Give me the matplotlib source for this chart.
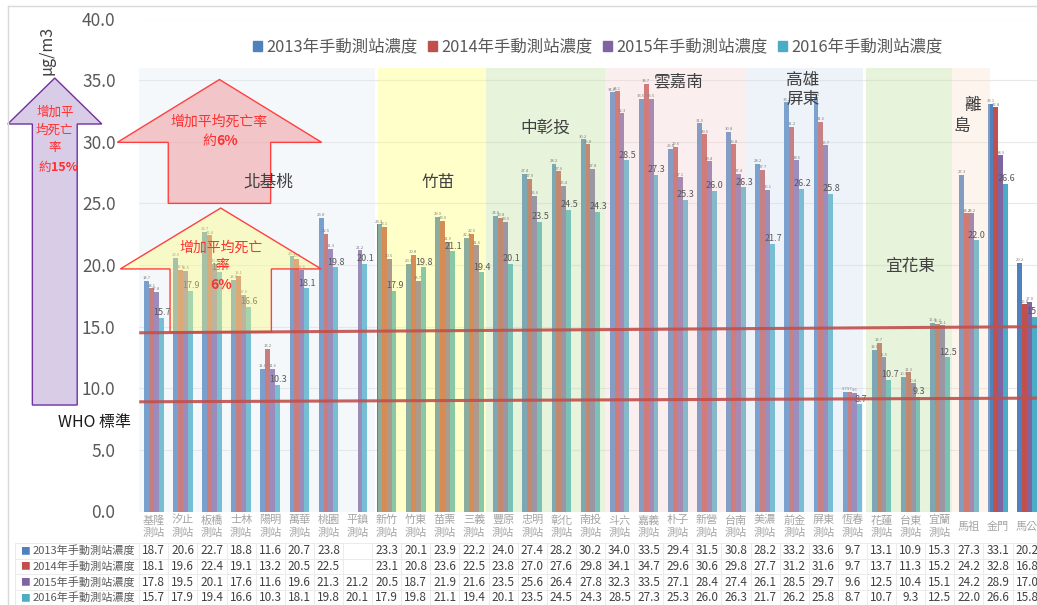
import matplotlib
matplotlib.use('Agg')
import matplotlib.pyplot as plt
import numpy as np
from matplotlib.patches import Polygon, Patch
from matplotlib.lines import Line2D
from matplotlib.colors import to_rgba

plt.rcParams['font.family'] = ['Noto Sans CJK TC', 'DejaVu Sans']

# ---- data ----
stations = ['基隆\n測站', '汐止\n測站', '板橋\n測站', '士林\n測站', '陽明\n測站', '萬華\n測站', '桃園\n測站', '平鎮\n測站',
            '新竹\n測站', '竹東\n測站', '苗栗\n測站', '三義\n測站', '豐原\n測站', '忠明\n測站', '彰化\n測站', '南投\n測站',
            '斗六\n測站', '嘉義\n測站', '朴子\n測站', '新營\n測站', '台南\n測站', '美濃\n測站', '前金\n測站', '屏東\n測站',
            '恆春\n測站', '花蓮\n測站', '台東\n測站', '宜蘭\n測站', '馬祖', '金門', '馬公']
years = ['2013年手動測站濃度', '2014年手動測站濃度', '2015年手動測站濃度', '2016年手動測站濃度']
v2013 = [18.7, 20.6, 22.7, 18.8, 11.6, 20.7, 23.8, np.nan, 23.3, 20.1, 23.9, 22.2, 24.0, 27.4, 28.2, 30.2,
         34.0, 33.5, 29.4, 31.5, 30.8, 28.2, 33.2, 33.6, 9.7, 13.1, 10.9, 15.3, 27.3, 33.1, 20.2]
v2014 = [18.1, 19.6, 22.4, 19.1, 13.2, 20.5, 22.5, np.nan, 23.1, 20.8, 23.6, 22.5, 23.8, 27.0, 27.6, 29.8,
         34.1, 34.7, 29.6, 30.6, 29.8, 27.7, 31.2, 31.6, 9.7, 13.7, 11.3, 15.2, 24.2, 32.8, 16.8]
v2015 = [17.8, 19.5, 20.1, 17.6, 11.6, 19.6, 21.3, 21.2, 20.5, 18.7, 21.9, 21.6, 23.5, 25.6, 26.4, 27.8,
         32.3, 33.5, 27.1, 28.4, 27.4, 26.1, 28.5, 29.7, 9.6, 12.5, 10.4, 15.1, 24.2, 28.9, 17.0]
v2016 = [15.7, 17.9, 19.4, 16.6, 10.3, 18.1, 19.8, 20.1, 17.9, 19.8, 21.1, 19.4, 20.1, 23.5, 24.5, 24.3,
         28.5, 27.3, 25.3, 26.0, 26.3, 21.7, 26.2, 25.8, 8.7, 10.7, 9.3, 12.5, 22.0, 26.6, 15.8]
series = [v2013, v2014, v2015, v2016]
colors = ['#4F81BD', '#C0504D', '#8064A2', '#4BACC6']

# regional shaded boxes (category spans)
region_spans = [(-0.5, 7.6), (7.7, 11.4), (11.4, 15.5), (15.5, 20.3), (20.3, 24.35), (24.45, 27.42), (27.42, 28.73)]
region_colors = ['#DCE9F5', '#FFFF66', '#C3E3A5', '#F2D0D0', '#D0DEF2', '#C3E3A5', '#F9DCC8']
region_alpha = [0.3, 0.35, 0.4, 0.35, 0.35, 0.4, 0.3]
region_top = 36.0

# standard lines (hand drawn, slightly tilted)
line_hi = (14.5, 15.0)
line_lo = (8.9, 9.2)

fig = plt.figure(figsize=(10.37, 6.05), dpi=100)
ax = fig.add_axes([139.2 / 1037, (605 - 511.5) / 605, 902.5 / 1037, 493 / 605])
ax.set_xlim(-0.5, 30.5)
ax.set_ylim(0, 40)

x = np.arange(len(stations))
bw = 0.168
offs = [-1.5 * bw, -0.5 * bw, 0.5 * bw, 1.5 * bw]
for k in range(4):
    vals = np.array(series[k], dtype=float)
    ax.bar(x + offs[k], vals, width=bw, color=colors[k], zorder=2, linewidth=0)
    for xi, v in zip(x, vals):
        if np.isnan(v):
            continue
        if k == 3:
            ax.annotate(f'{v:.1f}', (xi + offs[k], v), xytext=(0.5, 0.5), textcoords='offset points',
                        ha='center', va='bottom', fontsize=6.5, color='#595959', zorder=6)
        else:
            ax.annotate(f'{v:.1f}', (xi + offs[k], v), xytext=(0, 0.5), textcoords='offset points',
                        ha='center', va='bottom', fontsize=3, color='#7F7F7F', zorder=6)

# shaded region boxes over bars
for (x0, x1), c, a in zip(region_spans, region_colors, region_alpha):
    ax.axvspan(x0, x1, ymin=0, ymax=region_top / 40, color=c, alpha=a, lw=0, zorder=3)

rl = dict(fontsize=12, color='#404040', ha='center', va='center', zorder=7)
ax.text(3.92, 26.7, '北基桃', **rl)
ax.text(9.76, 26.7, '竹苗', **rl)
ax.text(13.44, 31.1, '中彰投', **rl)
ax.text(18.01, 34.85, '雲嘉南', **rl)
ax.text(22.3, 34.2, '高雄\n屏東', linespacing=1.15, **rl)
ax.text(25.98, 19.9, '宜花東', **rl)
ax.text(28.11, 32.98, '離', **rl)
ax.text(27.76, 31.2, '島', **rl)


def up_arrow(xc, body_hw, head_hw, y0, yneck, ytip, fc, a, ec):
    pts = [(xc - body_hw, y0), (xc + body_hw, y0), (xc + body_hw, yneck), (xc + head_hw, yneck),
           (xc, ytip), (xc - head_hw, yneck), (xc - body_hw, yneck)]
    ax.add_patch(Polygon(pts, closed=True, facecolor=to_rgba(fc, a), edgecolor=ec, lw=1.0,
                         zorder=6, clip_on=False))


up_arrow(-3.40, 0.77, 1.615, 8.64, 31.44, 35.17, '#D9CCE6', 1.0, '#7030A0')
up_arrow(2.257, 1.759, 3.51, 25.0, 29.95, 35.05, '#F29C9F', 0.55, '#FF4040')
up_arrow(2.30, 1.74, 3.45, 14.56, 19.68, 24.62, '#FFFF66', 0.35, '#FF4040')

red = '#FF3030'
tx = dict(color=red, ha='center', va='center', zorder=8, clip_on=False)
# purple arrow text
ax.text(-3.40, 32.4, '增加平', fontsize=9, **tx)
ax.text(-3.40, 30.95, '均死亡', fontsize=9, **tx)
ax.text(-3.40, 29.5, '率', fontsize=9, **tx)
ax.annotate('約', (-3.40, 27.95), xytext=(-3, 0), textcoords='offset points', fontsize=9,
            color=red, ha='right', va='center', zorder=8, annotation_clip=False)
ax.annotate('15%', (-3.40, 27.95), xytext=(-3, 0), textcoords='offset points', fontsize=9,
            fontweight='bold', color=red, ha='left', va='center', zorder=8, annotation_clip=False)
# pink arrow text
ax.text(2.257, 31.6, '增加平均死亡率', fontsize=10, **tx)
ax.annotate('約', (2.257, 30.1), xytext=(-2, 0), textcoords='offset points', fontsize=10,
            color=red, ha='right', va='center', zorder=8)
ax.annotate('6%', (2.257, 30.1), xytext=(-2, 0), textcoords='offset points', fontsize=10,
            fontweight='bold', color=red, ha='left', va='center', zorder=8)
# yellow arrow text
ax.text(2.30, 21.4, '增加平均死亡', fontsize=10, **tx)
ax.text(2.35, 20.0, '率', fontsize=10, **tx)
ax.text(2.30, 18.4, '6%', fontsize=10, fontweight='bold', **tx)

# standard lines
ax.plot([-0.5, 30.5], line_hi, color='#C0504D', lw=2.2, alpha=0.9, zorder=9, solid_capstyle='butt')
ax.plot([-0.5, 30.5], line_lo, color='#C0504D', lw=2.2, alpha=0.9, zorder=9, solid_capstyle='butt')
ax.text(-2.02, 7.26, 'WHO 標準', fontsize=11.5, color='#1A1A1A', ha='center', va='center', clip_on=False)
ax.text(-3.67, 37.4, 'μg/m3', fontsize=11.5, color='#404040', rotation=90, ha='center', va='center',
        clip_on=False)

# axes styling
ax.set_yticks(np.arange(0, 41, 5))
ax.set_yticklabels([f'{v:.1f}' for v in np.arange(0, 41, 5)])
ax.tick_params(axis='y', length=0, pad=17, labelsize=12.5, labelcolor='#595959')
ax.set_xticks([])
ax.yaxis.grid(True, color='#E8E8E8', lw=0.8)
ax.set_axisbelow(True)
for s in ax.spines.values():
    s.set_visible(False)

ax.legend(handles=[Patch(color=c) for c in colors], labels=years, loc='center',
          bbox_to_anchor=(0.508, 0.942), ncol=4, frameon=False, fontsize=11.8, handlelength=0.55,
          handleheight=0.55, handletextpad=0.3, columnspacing=0.6, labelcolor='#595959')

# data table under the chart
head_y = -1.22
row_y = [-3.2 - 1.27 * k for k in range(4)]
for xi, name in zip(x, stations):
    ax.text(xi, head_y, name, fontsize=8, color='#A5A5A5', ha='center', va='center',
            linespacing=1.3, clip_on=False)
for k in range(4):
    ax.text(-4.42, row_y[k], '■', fontsize=7, color=colors[k], ha='center', va='center', clip_on=False)
    ax.text(-4.18, row_y[k], years[k], fontsize=8, color='#595959', ha='left', va='center', clip_on=False)
    for xi, v in zip(x, series[k]):
        if not np.isnan(v):
            ax.text(xi, row_y[k], f'{v:.1f}', fontsize=8.5, color='#404040', ha='center', va='center',
                    clip_on=False)
grid_c = '#EBEBEB'
for yy in [-2.55, -3.85, -5.1, -6.37]:
    ax.plot([-4.76, 30.5], [yy, yy], color=grid_c, lw=0.7, clip_on=False, zorder=0)
for xx in [-4.76] + list(np.arange(-0.5, 31, 1.0)):
    ax.plot([xx, xx], [-2.55, -7.8], color=grid_c, lw=0.7, clip_on=False, zorder=0)

# outer frame of the chart area
fig.add_artist(Line2D([8 / 1037, 1], [1 - 6 / 605] * 2, transform=fig.transFigure, color='#D9D9D9', lw=1))
fig.add_artist(Line2D([8 / 1037] * 2, [0, 1 - 6 / 605], transform=fig.transFigure, color='#D9D9D9', lw=1))

fig.savefig('out.png', dpi=100)
